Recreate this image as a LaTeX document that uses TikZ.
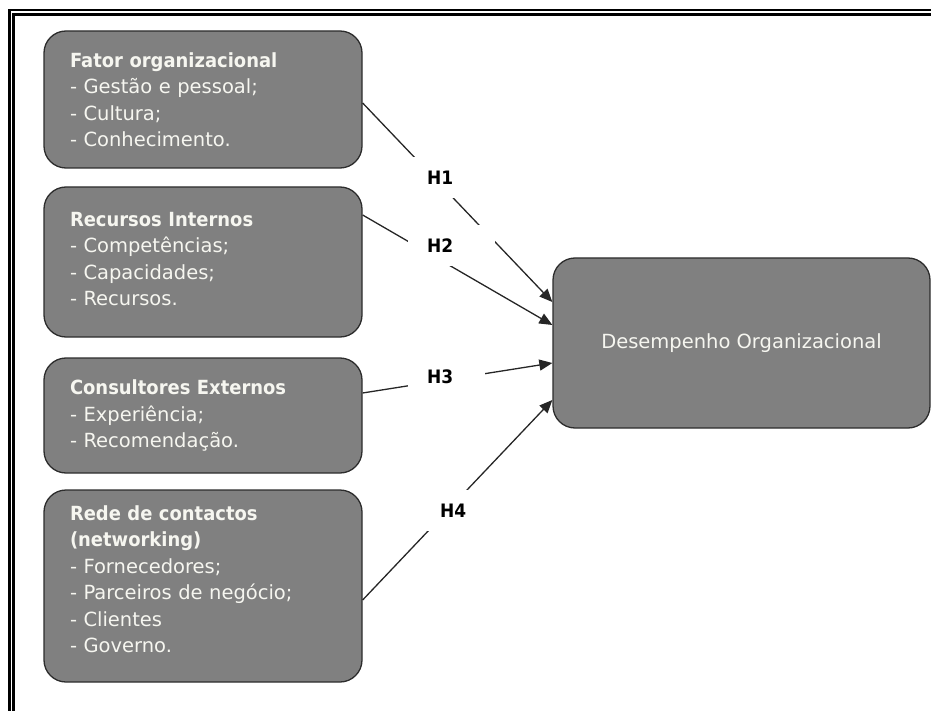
\documentclass[tikz,border=0pt]{standalone}
\usepackage{fontspec}
\setmainfont{DejaVu Sans}[BoldFeatures={FakeStretch=0.92}]
\usetikzlibrary{arrows.meta}
\definecolor{boxgray}{RGB}{128,128,128}
\definecolor{boxedge}{RGB}{45,45,45}
\definecolor{txt}{RGB}{246,246,240}
\begin{document}
\begin{tikzpicture}[x=1pt,y=-1pt,
  box/.style={draw=boxedge, line width=1.3pt, fill=boxgray, rounded corners=22pt,
    text=txt, align=left, inner xsep=26pt, inner ysep=0pt, text width=266pt,
    minimum width=318pt, font=\fontsize{19.5}{26.5}\selectfont},
  target/.style={draw=boxedge, line width=1.3pt, fill=boxgray, rounded corners=22pt,
    text=txt, minimum width=377pt, minimum height=170pt, inner sep=0pt,
    font=\fontsize{19.5}{26.5}\selectfont},
  conn/.style={draw=black!85, line width=1.3pt, -{Triangle[length=13pt,width=11pt]}},
  lab/.style={fill=white, inner xsep=19pt, inner ysep=0pt, minimum height=41pt,
    text width=49pt, align=left, font=\fontsize{18.5}{22}\selectfont\bfseries,
    anchor=north west},
  frame/.style={draw=black, line cap=butt}]
\useasboundingbox (0,0) rectangle (931,711);
% double frame
\draw[frame, line width=2.5pt] (9.5,711) -- (9.5,10) -- (931,10);
\draw[frame, line width=3pt] (13.5,711) -- (13.5,15) -- (931,15);
% boxes
\node[box, minimum height=137pt] (b1) at (203,99.5) {{\bfseries Fator organizacional}\\- Gestão e pessoal;\\- Cultura;\\- Conhecimento.};
\node[box, minimum height=150pt] (b2) at (203,262) {{\bfseries Recursos Internos}\\- Competências;\\- Capacidades;\\- Recursos.\\[-20pt]\mbox{}};
\node[box, minimum height=115pt] (b3) at (203,415.5) {{\bfseries Consultores Externos}\\- Experiência;\\- Recomendação.};
\node[box, minimum height=192pt] (b4) at (203,586) {{\bfseries Rede de contactos}\\{\bfseries (networking)}\\- Fornecedores;\\- Parceiros de negócio;\\- Clientes\\- Governo.\\[-13pt]\mbox{}};
\node[target] (dep) at (741.5,343) {Desempenho Organizacional};
% connectors
\draw[conn] ([yshift=-3.5pt]b1.east) -- ([yshift=41pt]dep.west);
\draw[conn] ([yshift=47pt]b2.east) -- ([yshift=18pt]dep.west);
\draw[conn] ([yshift=22.5pt]b3.east) -- ([yshift=-20pt]dep.west);
\draw[conn] ([yshift=-14pt]b4.east) -- ([yshift=-57pt]dep.west);
% labels
\node[lab] (h1) at (408,157) {H1};
\node[lab] (h2) at (408,225) {H2};
\node[lab, text width=39pt] (h3) at (408,356) {H3};
\node[lab, text width=41pt] (h4) at (421,490) {H4};
\end{tikzpicture}
\end{document}
